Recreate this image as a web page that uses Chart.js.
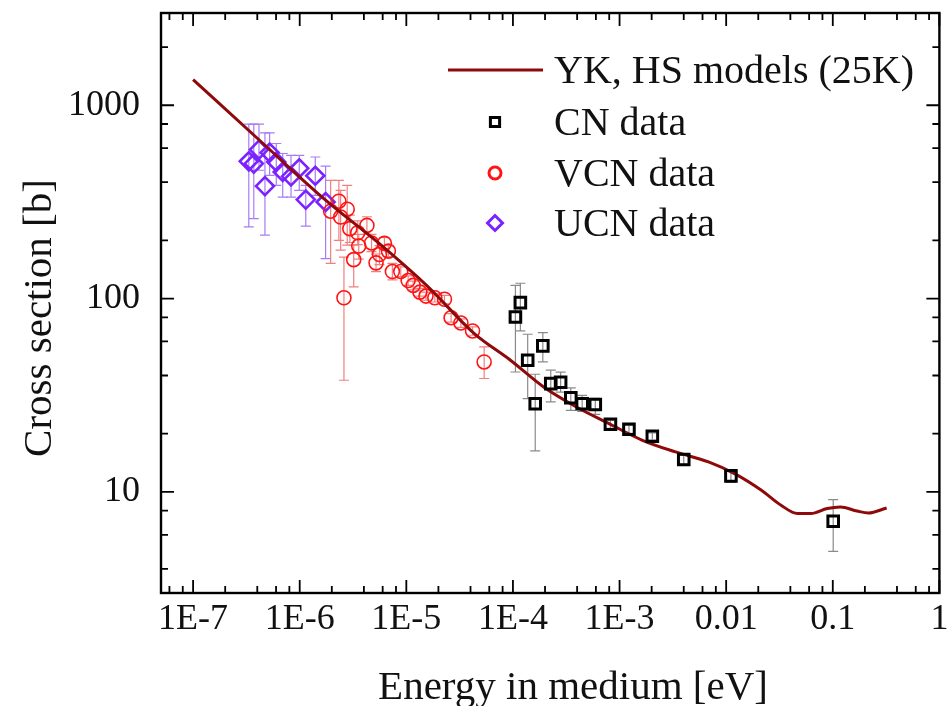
<!DOCTYPE html>
<html>
<head>
<meta charset="utf-8">
<script src="https://cdn.jsdelivr.net/npm/chart.js@4.4.1/dist/chart.umd.min.js"></script>
<style>
  html, body { margin: 0; padding: 0; background: #fff; }
  #wrap { width: 951px; height: 706px; }
</style>
</head>
<body>
<div id="wrap"><canvas id="chart"></canvas></div>
<script>
'use strict'

// model curve: YK, HS models (25K)
const modelE = [1e-7, 4.53e-7, 1.75e-6, 5.48e-6, 1.6e-5, 4.34e-5, 9.48e-5, 1.94e-4, 3.94e-4, 8.04e-4,
  1.64e-3, 3.35e-3, 6.82e-3, 0.0121, 0.0214, 0.0327, 0.0467, 0.0622, 0.0887, 0.118, 0.169, 0.216, 0.32]
const modelSigma = [1358, 634, 323, 194, 115, 65.9, 48.0, 34.9, 27.5, 22.5,
  18.5, 16.1, 14.3, 12.4, 10.2, 8.53, 7.73, 7.73, 8.20, 8.36, 7.96, 7.78, 8.26]

// CN data
const cnE = [1.055e-4, 1.174e-4, 1.375e-4, 1.618e-4, 1.907e-4, 2.263e-4, 2.80e-4, 3.49e-4,
  4.46e-4, 5.92e-4, 8.21e-4, 1.225e-3, 2.03e-3, 4.0e-3, 0.01108, 0.1009]
const cnSigma = [80.3, 95.3, 48.0, 28.6, 56.9, 36.3, 36.9, 30.7, 28.6, 28.3, 22.4, 21.1, 19.4, 14.7, 12.1, 7.05]
const cnLow = [41.7, 68, 30.4, 16.3, 47.0, 29.2, 32.8, 26.4, 26.1, 25.2, 21.3, 20.1, 18.6, 13.9, 11.2, 4.93]
const cnHigh = [117, 120, 65.4, 40.6, 66.7, 42.6, 41.6, 34.5, 31.6, 30.5, 23.5, 22.1, 20.2, 15.5, 13.0, 9.13]

// VCN data
const vcnE = [1.95e-6, 2.33e-6, 2.42e-6, 2.60e-6, 2.79e-6, 2.95e-6, 3.21e-6, 3.50e-6, 3.58e-6, 4.27e-6,
  4.72e-6, 5.20e-6, 5.60e-6, 6.23e-6, 6.79e-6, 7.40e-6, 8.87e-6, 1.04e-5, 1.16e-5, 1.34e-5,
  1.53e-5, 1.85e-5, 2.28e-5, 2.63e-5, 3.25e-5, 4.18e-5, 5.37e-5]
const vcnSigma = [283, 319, 264, 101, 290, 230, 159, 219, 187, 239,
  194, 153, 169, 193, 176, 138, 138, 124, 117, 108,
  103, 101, 99.2, 79.6, 74.8, 68.0, 47.0]
const vcnLow = [152, 200, 178, 37.8, 189, 195, 115, 190, 160, 215,
  175, 138, 150, 180, 165, 125, 130, 117, 111, 103,
  98, 96, 94, 75.6, 71, 64.6, 38.6]
const vcnHigh = [409, 409, 363, 164, 385, 270, 189, 252, 215, 265,
  215, 170, 188, 207, 188, 152, 146, 131, 123, 113,
  108, 106, 104, 83.6, 78.5, 71.4, 56.2]

// UCN data
const ucnE = [3.33e-7, 3.71e-7, 4.15e-7, 4.72e-7, 5.22e-7, 6.03e-7, 6.93e-7, 8.29e-7, 9.9e-7, 1.14e-6, 1.40e-6, 1.75e-6]
const ucnSigma = [513, 499, 590, 382, 569, 509, 452, 429, 472, 325, 432, 316]
const ucnLow = [235, 259, 461, 213, 434, 385, 335, 335, 363, 237, 342, 161]
const ucnHigh = [798, 798, 798, 719, 719, 634, 563, 551, 551, 385, 540, 484]

// axes
const xTickValues = [1e-7, 1e-6, 1e-5, 1e-4, 1e-3, 0.01, 0.1, 1]
const xTickLabels = ['1E-7', '1E-6', '1E-5', '1E-4', '1E-3', '0.01', '0.1', '1']
const yTickValues = [10, 100, 1000]
const yTickLabels = ['10', '100', '1000']

const serif = '"Liberation Serif", "Times New Roman", serif'

const pts = (xs, ys) => xs.map((v, i) => ({ x: v, y: ys[i] }))

function logTicks(min, max) {
  const out = []
  for (let e = Math.floor(Math.log10(min)); e <= Math.ceil(Math.log10(max)); e++) {
    for (const m of [1, 2, 4, 6, 8]) {
      const v = m * Math.pow(10, e)
      if (v >= min * 0.999 && v <= max * 1.001) out.push({ v: v, major: m === 1 })
    }
  }
  return out
}

function noPad(s) {
  s.paddingLeft = 0
  s.paddingRight = 0
  s.paddingTop = 0
  s.paddingBottom = 0
}

const errorBars = {
  id: 'errorBars',
  beforeDatasetsDraw(chart) {
    const { ctx, scales: { x, y } } = chart
    ctx.save()
    chart.data.datasets.forEach(ds => {
      if (!ds.errLow) return
      ctx.strokeStyle = ds.errColor
      ctx.lineWidth = 1.2
      ds.data.forEach((p, i) => {
        const px = x.getPixelForValue(p.x)
        const y1 = y.getPixelForValue(ds.errLow[i])
        const y2 = y.getPixelForValue(ds.errHigh[i])
        ctx.beginPath()
        ctx.moveTo(px, y1); ctx.lineTo(px, y2)
        ctx.moveTo(px - 5, y1); ctx.lineTo(px + 5, y1)
        ctx.moveTo(px - 5, y2); ctx.lineTo(px + 5, y2)
        ctx.stroke()
      })
    })
    ctx.restore()
  }
}

const frame = {
  id: 'frame',
  afterDraw(chart) {
    const { ctx, chartArea: a, scales: { x, y } } = chart
    ctx.save()
    ctx.strokeStyle = '#000'
    ctx.lineWidth = 1.8
    ctx.beginPath()
    for (const t of logTicks(x.min, x.max)) {
      const px = x.getPixelForValue(t.v)
      const len = t.major ? 13 : 7
      ctx.moveTo(px, a.bottom); ctx.lineTo(px, a.bottom - len)
      ctx.moveTo(px, a.top); ctx.lineTo(px, a.top + len)
    }
    for (const t of logTicks(y.min, y.max)) {
      const py = y.getPixelForValue(t.v)
      const len = t.major ? 13 : 7
      ctx.moveTo(a.left, py); ctx.lineTo(a.left + len, py)
      ctx.moveTo(a.right, py); ctx.lineTo(a.right - len, py)
    }
    ctx.stroke()
    ctx.lineWidth = 2.4
    ctx.strokeRect(a.left, a.top, a.right - a.left, a.bottom - a.top)

    // axis titles
    ctx.fillStyle = '#111'
    ctx.font = '41px ' + serif
    ctx.textAlign = 'center'
    ctx.textBaseline = 'alphabetic'
    ctx.fillText('Energy in medium [eV]', 573, 699)
    ctx.translate(51, 318)
    ctx.rotate(-Math.PI / 2)
    ctx.fillText('Cross section [b]', 0, 0)
    ctx.setTransform(1, 0, 0, 1, 0, 0)

    // legend
    const rows = [70, 122, 173, 223]
    ctx.font = '40px ' + serif
    ctx.textAlign = 'left'
    ctx.textBaseline = 'middle'
    chart.data.datasets.forEach((ds, i) => {
      const yy = rows[i]
      ctx.strokeStyle = ds.borderColor
      if (ds.showLine) {
        ctx.lineWidth = ds.borderWidth
        ctx.beginPath()
        ctx.moveTo(448, yy); ctx.lineTo(543, yy)
        ctx.stroke()
      } else {
        ctx.fillStyle = 'rgba(0,0,0,0)'
        ctx.lineWidth = 3
        Chart.helpers.drawPoint(ctx, { pointStyle: ds.pointStyle, radius: ds.legendRadius, rotation: 0, borderWidth: 3 }, 495, yy)
      }
      ctx.fillStyle = '#111'
      ctx.fillText(ds.label, 554, yy + 2)
    })
    ctx.restore()
  }
}

const ctx = document.getElementById('chart')

const data = {
  datasets: [{
    label: 'YK, HS models (25K)',
    type: 'line',
    data: pts(modelE, modelSigma),
    showLine: true,
    borderColor: '#8e0a0a',
    borderWidth: 3,
    pointRadius: 0,
    cubicInterpolationMode: 'monotone',
    order: 1,
  }, {
    label: 'CN data',
    data: pts(cnE, cnSigma),
    showLine: false,
    pointStyle: 'rect',
    pointRadius: 7.5,
    legendRadius: 6.5,
    pointBorderWidth: 3,
    borderColor: '#000',
    backgroundColor: 'rgba(0,0,0,0)',
    errLow: cnLow,
    errHigh: cnHigh,
    errColor: '#8a8a8a',
    order: 0,
  }, {
    label: 'VCN data',
    data: pts(vcnE, vcnSigma),
    showLine: false,
    pointStyle: 'circle',
    pointRadius: 7,
    legendRadius: 6,
    pointBorderWidth: 1.6,
    borderColor: '#ff1414',
    backgroundColor: 'rgba(0,0,0,0)',
    errLow: vcnLow,
    errHigh: vcnHigh,
    errColor: '#f08080',
    order: 2,
  }, {
    label: 'UCN data',
    data: pts(ucnE, ucnSigma),
    showLine: false,
    pointStyle: 'rectRot',
    pointRadius: 9,
    legendRadius: 7.5,
    pointBorderWidth: 2.6,
    borderColor: '#7a22ff',
    backgroundColor: 'rgba(0,0,0,0)',
    errLow: ucnLow,
    errHigh: ucnHigh,
    errColor: '#a77cf5',
    order: 3,
  }]
}

const options = {
  responsive: true,
  maintainAspectRatio: false,
  animation: false,
  events: [],
  layout: { padding: { top: 13, right: 6, left: 0, bottom: 0 } },
  plugins: {
    legend: { display: false },
    tooltip: { enabled: false },
  },
  scales: {
    x: {
      type: 'logarithmic',
      min: 5e-8,
      max: 1,
      afterBuildTicks: s => { s.ticks = xTickValues.map(v => ({ value: v })) },
      afterFit: s => { s.height = 113; noPad(s) },
      grid: { display: false, drawTicks: false },
      border: { display: false },
      ticks: {
        callback: (v, i) => xTickLabels[i],
        font: { family: serif, size: 36 },
        color: '#111',
        maxRotation: 0,
        autoSkip: false,
        padding: 5,
      },
    },
    y: {
      type: 'logarithmic',
      min: 3,
      max: 3000,
      afterBuildTicks: s => { s.ticks = yTickValues.map(v => ({ value: v })) },
      afterFit: s => { s.width = 161; noPad(s) },
      grid: { display: false, drawTicks: false },
      border: { display: false },
      ticks: {
        callback: (v, i) => yTickLabels[i],
        font: { family: serif, size: 36 },
        color: '#111',
        autoSkip: false,
        padding: 21,
      },
    },
  },
}

const chart = new Chart(ctx, {
  type: 'scatter',
  data: data,
  options: options,
  plugins: [errorBars, frame],
})
</script>
</body>
</html>
